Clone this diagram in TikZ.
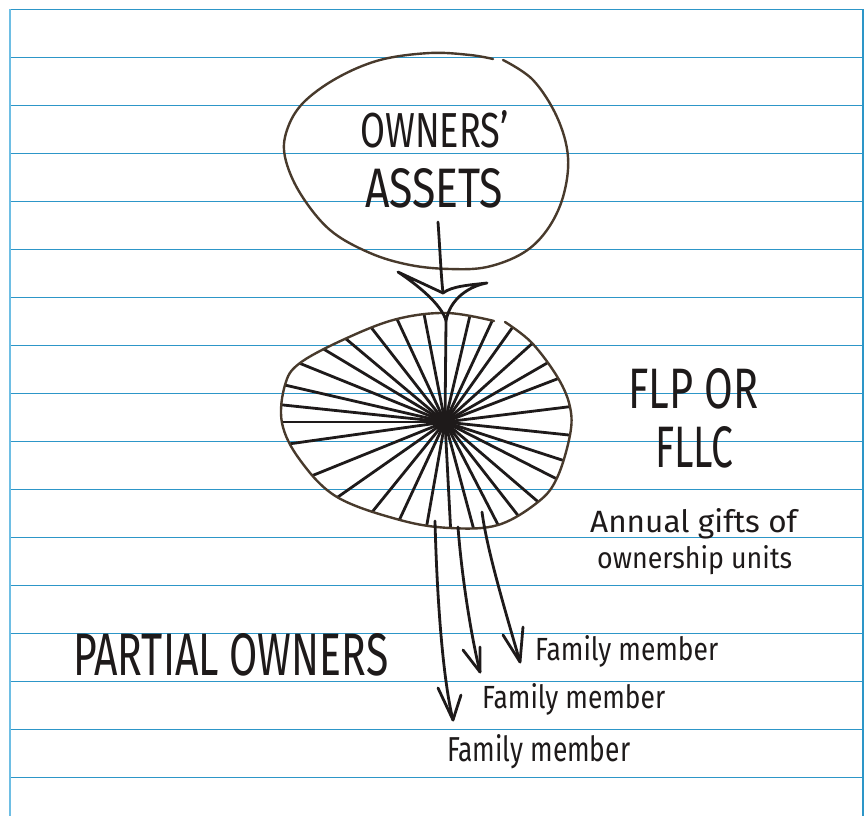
\documentclass[tikz,border=0pt]{standalone}
\usepackage{fontspec}
\setmainfont{Fira Sans}
\usepackage{graphicx}
\definecolor{ruleblue}{RGB}{45,150,200}
\definecolor{marginblue}{RGB}{110,190,228}
\definecolor{blobbrown}{RGB}{72,58,44}
\definecolor{ink}{RGB}{30,26,26}
\newcommand\hwtext[3]{\resizebox{#1pt}{#2pt}{#3}}
\begin{document}
\begin{tikzpicture}[x=1pt,y=-1pt,
  ruled/.style={ruleblue,line width=1.5pt},
  blob/.style={blobbrown,line width=2.4pt,line cap=round},
  spoke/.style={ink,line width=2.8pt},
  inkline/.style={ink,line width=2.8pt,line cap=round,line join=round},
  txt/.style={inner sep=0pt,anchor=base west,text=ink}]
\useasboundingbox (0,0) rectangle (867,816);
\fill[white] (0,0) rectangle (867,816);
% notebook paper
\foreach \y in {57.5,105.5,153.5,201.5,249.5,297.5,345.5,393.5,441.5,489.5,537.5,585.5,633.5,681.5,729.5,777.5}
  \draw[ruled] (10,\y) -- (863,\y);
\draw[ruled] (10,9.5) -- (863,9.5);
\draw[marginblue,line width=1.7pt] (10,9.5) -- (10,816);
\draw[ruled] (863,9.5) -- (863,816);

% top blob: owners' assets
\draw[blob] plot[smooth,tension=0.6] coordinates {(503,60) (533,80) (557,117) (568,157) (563,197) (547,230) (523,253) (487,267) (450,269) (410,265) (370,253) (330,230) (300,193) (285,157) (287,130) (303,103) (337,78) (380,60) (430,53) (470,55) (493,59)};

% spokes of the FLP blob
\coordinate (hub) at (445,422);
\begin{scope}
\clip plot[smooth cycle,tension=0.6] coordinates {(505,322) (532,343) (558,378) (570,407) (570,435) (557,478) (538,502) (498,525) (450,528) (400,520) (337,497) (300,460) (282,423) (285,385) (300,363) (347,338) (397,319) (447,313) (494,321)};
\foreach \a in {128,115,101,76.8,65,54.5,42,30,21,7,-6,-18,-27,-40.6,-52,-62.7,-75,-87,-100,-115,-129,-145,-158,-172,180,174,167,158,149,140}
  \draw[spoke] (hub) -- ++(-\a:220);
\end{scope}
\draw[blob] plot[smooth,tension=0.6] coordinates {(505,322) (532,343) (558,378) (570,407) (570,435) (557,478) (538,502) (498,525) (450,528) (400,520) (337,497) (300,460) (282,423) (285,385) (300,363) (347,338) (397,319) (447,313) (494,321)};

% big arrow from owners' assets into the FLP
\coordinate (shafttop) at (438,222);
\coordinate (shaftbot) at (443,293);
\coordinate (tip) at (446,321);
\draw[inkline] (shafttop) .. controls (440,250) and (441,275) .. (shaftbot);
\draw[inkline] (398,272) -- (shaftbot) .. controls (452,286) and (470,285) .. (487,283)
  .. controls (470,286) and (450,298) .. (tip)
  .. controls (443,308) and (425,290) .. (398,272);
\draw[inkline] (tip) -- (hub);

% arrows to family members
\coordinate (a1s) at (435,521);
\coordinate (a1t) at (453,720);
\coordinate (a2s) at (458,527);
\coordinate (a2t) at (480,672);
\coordinate (a3s) at (482,512);
\coordinate (a3t) at (520,662);
\draw[inkline] (a1s) .. controls (437,600) and (443,680) .. (a1t);
\draw[inkline] (438,688) -- (a1t) -- (461,695);
\draw[inkline] (a2s) .. controls (462,580) and (472,640) .. (a2t);
\draw[inkline] (463,650) -- (a2t) -- (480,647);
\draw[inkline] (a3s) .. controls (487,550) and (505,610) .. (a3t);
\draw[inkline] (503,635) -- (a3t) -- (523,627);

% texts
\node[txt] (owners) at (360,147) {\hwtext{148}{37}{OWNERS’}};
\node[txt] (assets) at (365,207) {\hwtext{138}{39}{ASSETS}};
\node[txt] (flp) at (628,408) {\hwtext{130}{40}{FLP OR}};
\node[txt] (fllc) at (655,467) {\hwtext{78}{41}{FLLC}};
\node[txt] (gifts1) at (590,532) {\hwtext{207}{24}{Annual gifts of}};
\node[txt] (gifts2) at (597,568) {\hwtext{195}{23}{ownership units}};
\node[txt] (partial) at (73,675) {\hwtext{315}{42}{PARTIAL OWNERS}};
\node[txt] (fm1) at (535,660) {\hwtext{183}{25}{Family member}};
\node[txt] (fm2) at (482,708) {\hwtext{183}{25}{Family member}};
\node[txt] (fm3) at (447,761) {\hwtext{183}{27}{Family member}};
\end{tikzpicture}
\end{document}
